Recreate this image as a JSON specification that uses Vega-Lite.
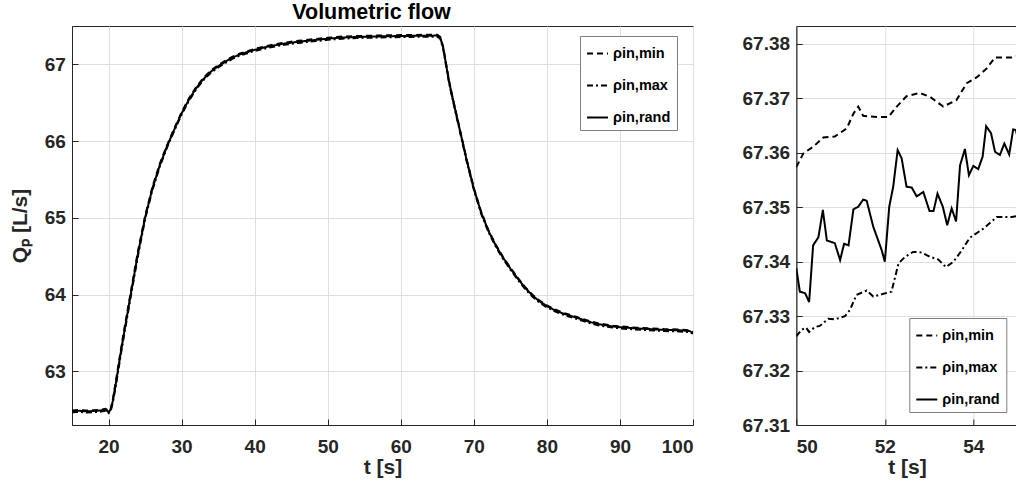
{
"$schema": "https://vega.github.io/schema/vega-lite/v6.json",
"background": "white",
"padding": {"left": 8, "top": 1, "right": 0, "bottom": 0},
"config": {
  "font": "Liberation Sans",
  "view": {"stroke": "#262626", "strokeWidth": 1},
  "axis": {"labelFont": "Liberation Sans", "labelFontSize": 19, "labelFontWeight": "bold", "labelColor": "#262626", "titleFont": "Liberation Sans", "titleFontSize": 21, "titleFontWeight": "bold", "titleColor": "#262626", "gridColor": "#dfdfdf", "gridWidth": 1, "domainColor": "#262626", "tickColor": "#262626", "tickSize": -6, "labelPadding": 13},
  "legend": {"labelFont": "Liberation Sans", "labelFontSize": 14.5, "labelFontWeight": "bold", "labelColor": "black", "symbolType": "stroke", "symbolStrokeColor": "black", "symbolStrokeWidth": 2, "symbolSize": 441, "strokeColor": "#7f7f7f", "fillColor": "white", "padding": 6, "rowPadding": 14, "labelOffset": 4, "cornerRadius": 0, "title": null},
  "title": {"font": "Liberation Sans", "fontSize": 21.5, "fontWeight": "bold", "color": "black"}
},
"datasets": {
"main": [
{"t":15,"s":"ρin,rand","q":62.48},{"t":16,"s":"ρin,rand","q":62.485},{"t":17,"s":"ρin,rand","q":62.478},{"t":18,"s":"ρin,rand","q":62.482},{"t":19,"s":"ρin,rand","q":62.49},{"t":19.6,"s":"ρin,rand","q":62.5},{"t":20,"s":"ρin,rand","q":62.468},{"t":20.3,"s":"ρin,rand","q":62.5},{"t":20.6,"s":"ρin,rand","q":62.62},{"t":21,"s":"ρin,rand","q":62.84},{"t":21.5,"s":"ρin,rand","q":63.14},{"t":22,"s":"ρin,rand","q":63.43},{"t":23,"s":"ρin,rand","q":63.98},{"t":24,"s":"ρin,rand","q":64.52},{"t":25,"s":"ρin,rand","q":65.0},{"t":26,"s":"ρin,rand","q":65.38},{"t":27,"s":"ρin,rand","q":65.68},{"t":28,"s":"ρin,rand","q":65.93},{"t":29,"s":"ρin,rand","q":66.15},{"t":30,"s":"ρin,rand","q":66.36},{"t":31,"s":"ρin,rand","q":66.54},{"t":32,"s":"ρin,rand","q":66.69},{"t":33,"s":"ρin,rand","q":66.81},{"t":34,"s":"ρin,rand","q":66.905},{"t":35,"s":"ρin,rand","q":66.975},{"t":36,"s":"ρin,rand","q":67.035},{"t":37,"s":"ρin,rand","q":67.09},{"t":38,"s":"ρin,rand","q":67.13},{"t":39,"s":"ρin,rand","q":67.16},{"t":40,"s":"ρin,rand","q":67.19},{"t":42,"s":"ρin,rand","q":67.235},{"t":44,"s":"ρin,rand","q":67.27},{"t":46,"s":"ρin,rand","q":67.295},{"t":48,"s":"ρin,rand","q":67.315},{"t":50,"s":"ρin,rand","q":67.335},{"t":52,"s":"ρin,rand","q":67.35},{"t":54,"s":"ρin,rand","q":67.357},{"t":56,"s":"ρin,rand","q":67.362},{"t":58,"s":"ρin,rand","q":67.366},{"t":60,"s":"ρin,rand","q":67.37},{"t":62,"s":"ρin,rand","q":67.372},{"t":64,"s":"ρin,rand","q":67.374},{"t":65,"s":"ρin,rand","q":67.375},{"t":65.4,"s":"ρin,rand","q":67.35},{"t":65.8,"s":"ρin,rand","q":67.22},{"t":66.2,"s":"ρin,rand","q":67.0},{"t":66.6,"s":"ρin,rand","q":66.78},{"t":67,"s":"ρin,rand","q":66.6},{"t":68,"s":"ρin,rand","q":66.18},{"t":69,"s":"ρin,rand","q":65.76},{"t":70,"s":"ρin,rand","q":65.38},{"t":71,"s":"ρin,rand","q":65.07},{"t":72,"s":"ρin,rand","q":64.83},{"t":73,"s":"ρin,rand","q":64.64},{"t":74,"s":"ρin,rand","q":64.48},{"t":75,"s":"ρin,rand","q":64.34},{"t":76,"s":"ρin,rand","q":64.21},{"t":77,"s":"ρin,rand","q":64.09},{"t":78,"s":"ρin,rand","q":63.99},{"t":79,"s":"ρin,rand","q":63.91},{"t":80,"s":"ρin,rand","q":63.85},{"t":81,"s":"ρin,rand","q":63.8},{"t":82,"s":"ρin,rand","q":63.76},{"t":83,"s":"ρin,rand","q":63.73},{"t":84,"s":"ρin,rand","q":63.7},{"t":85,"s":"ρin,rand","q":63.67},{"t":86,"s":"ρin,rand","q":63.64},{"t":87,"s":"ρin,rand","q":63.615},{"t":88,"s":"ρin,rand","q":63.6},{"t":89,"s":"ρin,rand","q":63.585},{"t":90,"s":"ρin,rand","q":63.575},{"t":92,"s":"ρin,rand","q":63.56},{"t":94,"s":"ρin,rand","q":63.55},{"t":96,"s":"ρin,rand","q":63.54},{"t":98,"s":"ρin,rand","q":63.535},{"t":99.5,"s":"ρin,rand","q":63.525},{"t":100,"s":"ρin,rand","q":63.5},
{"t":15,"s":"ρin,min","q":62.49},{"t":16,"s":"ρin,min","q":62.495},{"t":17,"s":"ρin,min","q":62.488},{"t":18,"s":"ρin,min","q":62.492},{"t":19,"s":"ρin,min","q":62.5},{"t":19.6,"s":"ρin,min","q":62.51},{"t":20,"s":"ρin,min","q":62.478},{"t":20.3,"s":"ρin,min","q":62.51},{"t":20.6,"s":"ρin,min","q":62.64},{"t":21,"s":"ρin,min","q":62.87},{"t":21.5,"s":"ρin,min","q":63.17},{"t":22,"s":"ρin,min","q":63.46},{"t":23,"s":"ρin,min","q":64.01},{"t":24,"s":"ρin,min","q":64.55},{"t":25,"s":"ρin,min","q":65.02},{"t":26,"s":"ρin,min","q":65.4},{"t":27,"s":"ρin,min","q":65.7},{"t":28,"s":"ρin,min","q":65.945},{"t":29,"s":"ρin,min","q":66.165},{"t":30,"s":"ρin,min","q":66.375},{"t":31,"s":"ρin,min","q":66.555},{"t":32,"s":"ρin,min","q":66.705},{"t":33,"s":"ρin,min","q":66.825},{"t":34,"s":"ρin,min","q":66.92},{"t":35,"s":"ρin,min","q":66.99},{"t":36,"s":"ρin,min","q":67.048},{"t":37,"s":"ρin,min","q":67.102},{"t":38,"s":"ρin,min","q":67.142},{"t":39,"s":"ρin,min","q":67.172},{"t":40,"s":"ρin,min","q":67.202},{"t":42,"s":"ρin,min","q":67.247},{"t":44,"s":"ρin,min","q":67.282},{"t":46,"s":"ρin,min","q":67.307},{"t":48,"s":"ρin,min","q":67.327},{"t":50,"s":"ρin,min","q":67.347},{"t":52,"s":"ρin,min","q":67.362},{"t":54,"s":"ρin,min","q":67.369},{"t":56,"s":"ρin,min","q":67.374},{"t":58,"s":"ρin,min","q":67.378},{"t":60,"s":"ρin,min","q":67.382},{"t":62,"s":"ρin,min","q":67.384},{"t":64,"s":"ρin,min","q":67.386},{"t":65,"s":"ρin,min","q":67.387},{"t":65.4,"s":"ρin,min","q":67.36},{"t":65.8,"s":"ρin,min","q":67.23},{"t":66.2,"s":"ρin,min","q":67.01},{"t":66.6,"s":"ρin,min","q":66.79},{"t":67,"s":"ρin,min","q":66.61},{"t":68,"s":"ρin,min","q":66.19},{"t":69,"s":"ρin,min","q":65.77},{"t":70,"s":"ρin,min","q":65.39},{"t":71,"s":"ρin,min","q":65.08},{"t":72,"s":"ρin,min","q":64.84},{"t":73,"s":"ρin,min","q":64.65},{"t":74,"s":"ρin,min","q":64.49},{"t":75,"s":"ρin,min","q":64.35},{"t":76,"s":"ρin,min","q":64.22},{"t":77,"s":"ρin,min","q":64.1},{"t":78,"s":"ρin,min","q":64.0},{"t":79,"s":"ρin,min","q":63.92},{"t":80,"s":"ρin,min","q":63.86},{"t":81,"s":"ρin,min","q":63.81},{"t":82,"s":"ρin,min","q":63.77},{"t":83,"s":"ρin,min","q":63.74},{"t":84,"s":"ρin,min","q":63.71},{"t":85,"s":"ρin,min","q":63.68},{"t":86,"s":"ρin,min","q":63.65},{"t":87,"s":"ρin,min","q":63.625},{"t":88,"s":"ρin,min","q":63.61},{"t":89,"s":"ρin,min","q":63.595},{"t":90,"s":"ρin,min","q":63.585},{"t":92,"s":"ρin,min","q":63.57},{"t":94,"s":"ρin,min","q":63.56},{"t":96,"s":"ρin,min","q":63.55},{"t":98,"s":"ρin,min","q":63.545},{"t":99.5,"s":"ρin,min","q":63.535},{"t":100,"s":"ρin,min","q":63.51},
{"t":15,"s":"ρin,max","q":62.465},{"t":16,"s":"ρin,max","q":62.47},{"t":17,"s":"ρin,max","q":62.463},{"t":18,"s":"ρin,max","q":62.467},{"t":19,"s":"ρin,max","q":62.475},{"t":19.6,"s":"ρin,max","q":62.485},{"t":20,"s":"ρin,max","q":62.455},{"t":20.3,"s":"ρin,max","q":62.485},{"t":20.6,"s":"ρin,max","q":62.6},{"t":21,"s":"ρin,max","q":62.81},{"t":21.5,"s":"ρin,max","q":63.11},{"t":22,"s":"ρin,max","q":63.4},{"t":23,"s":"ρin,max","q":63.95},{"t":24,"s":"ρin,max","q":64.49},{"t":25,"s":"ρin,max","q":64.98},{"t":26,"s":"ρin,max","q":65.36},{"t":27,"s":"ρin,max","q":65.665},{"t":28,"s":"ρin,max","q":65.915},{"t":29,"s":"ρin,max","q":66.135},{"t":30,"s":"ρin,max","q":66.345},{"t":31,"s":"ρin,max","q":66.525},{"t":32,"s":"ρin,max","q":66.675},{"t":33,"s":"ρin,max","q":66.795},{"t":34,"s":"ρin,max","q":66.89},{"t":35,"s":"ρin,max","q":66.96},{"t":36,"s":"ρin,max","q":67.02},{"t":37,"s":"ρin,max","q":67.075},{"t":38,"s":"ρin,max","q":67.115},{"t":39,"s":"ρin,max","q":67.145},{"t":40,"s":"ρin,max","q":67.175},{"t":42,"s":"ρin,max","q":67.22},{"t":44,"s":"ρin,max","q":67.255},{"t":46,"s":"ρin,max","q":67.28},{"t":48,"s":"ρin,max","q":67.3},{"t":50,"s":"ρin,max","q":67.32},{"t":52,"s":"ρin,max","q":67.335},{"t":54,"s":"ρin,max","q":67.343},{"t":56,"s":"ρin,max","q":67.348},{"t":58,"s":"ρin,max","q":67.352},{"t":60,"s":"ρin,max","q":67.356},{"t":62,"s":"ρin,max","q":67.358},{"t":64,"s":"ρin,max","q":67.36},{"t":65,"s":"ρin,max","q":67.361},{"t":65.4,"s":"ρin,max","q":67.335},{"t":65.8,"s":"ρin,max","q":67.205},{"t":66.2,"s":"ρin,max","q":66.985},{"t":66.6,"s":"ρin,max","q":66.765},{"t":67,"s":"ρin,max","q":66.585},{"t":68,"s":"ρin,max","q":66.165},{"t":69,"s":"ρin,max","q":65.745},{"t":70,"s":"ρin,max","q":65.365},{"t":71,"s":"ρin,max","q":65.055},{"t":72,"s":"ρin,max","q":64.815},{"t":73,"s":"ρin,max","q":64.625},{"t":74,"s":"ρin,max","q":64.465},{"t":75,"s":"ρin,max","q":64.325},{"t":76,"s":"ρin,max","q":64.195},{"t":77,"s":"ρin,max","q":64.075},{"t":78,"s":"ρin,max","q":63.975},{"t":79,"s":"ρin,max","q":63.895},{"t":80,"s":"ρin,max","q":63.835},{"t":81,"s":"ρin,max","q":63.785},{"t":82,"s":"ρin,max","q":63.745},{"t":83,"s":"ρin,max","q":63.715},{"t":84,"s":"ρin,max","q":63.685},{"t":85,"s":"ρin,max","q":63.655},{"t":86,"s":"ρin,max","q":63.625},{"t":87,"s":"ρin,max","q":63.6},{"t":88,"s":"ρin,max","q":63.585},{"t":89,"s":"ρin,max","q":63.57},{"t":90,"s":"ρin,max","q":63.56},{"t":92,"s":"ρin,max","q":63.545},{"t":94,"s":"ρin,max","q":63.535},{"t":96,"s":"ρin,max","q":63.525},{"t":98,"s":"ρin,max","q":63.52},{"t":99.5,"s":"ρin,max","q":63.51},{"t":100,"s":"ρin,max","q":63.49}
],
"zoom": [
{"t":50,"s":"ρin,min","q":67.3574},{"t":50.16,"s":"ρin,min","q":67.3599},{"t":50.38,"s":"ρin,min","q":67.3611},{"t":50.61,"s":"ρin,min","q":67.3628},{"t":50.87,"s":"ρin,min","q":67.363},{"t":51.14,"s":"ρin,min","q":67.3645},{"t":51.29,"s":"ρin,min","q":67.3672},{"t":51.4,"s":"ρin,min","q":67.3685},{"t":51.51,"s":"ρin,min","q":67.3668},{"t":51.82,"s":"ρin,min","q":67.3666},{"t":52.08,"s":"ρin,min","q":67.3666},{"t":52.27,"s":"ρin,min","q":67.3685},{"t":52.49,"s":"ρin,min","q":67.3704},{"t":52.79,"s":"ρin,min","q":67.371},{"t":53.02,"s":"ρin,min","q":67.3703},{"t":53.32,"s":"ρin,min","q":67.3685},{"t":53.62,"s":"ρin,min","q":67.3697},{"t":53.85,"s":"ρin,min","q":67.3728},{"t":54.08,"s":"ρin,min","q":67.3739},{"t":54.3,"s":"ρin,min","q":67.3755},{"t":54.49,"s":"ρin,min","q":67.3775},{"t":54.87,"s":"ρin,min","q":67.3775},{"t":55.1,"s":"ρin,min","q":67.378},
{"t":50,"s":"ρin,rand","q":67.3388},{"t":50.08,"s":"ρin,rand","q":67.3345},{"t":50.2,"s":"ρin,rand","q":67.3342},{"t":50.29,"s":"ρin,rand","q":67.3326},{"t":50.38,"s":"ρin,rand","q":67.343},{"t":50.5,"s":"ρin,rand","q":67.3445},{"t":50.6,"s":"ρin,rand","q":67.3495},{"t":50.69,"s":"ρin,rand","q":67.3439},{"t":50.87,"s":"ρin,rand","q":67.3434},{"t":50.99,"s":"ρin,rand","q":67.3403},{"t":51.08,"s":"ρin,rand","q":67.3433},{"t":51.18,"s":"ρin,rand","q":67.343},{"t":51.29,"s":"ρin,rand","q":67.3496},{"t":51.4,"s":"ρin,rand","q":67.3501},{"t":51.51,"s":"ρin,rand","q":67.3514},{"t":51.59,"s":"ρin,rand","q":67.3512},{"t":51.74,"s":"ρin,rand","q":67.3464},{"t":51.93,"s":"ρin,rand","q":67.3421},{"t":52,"s":"ρin,rand","q":67.34},{"t":52.1,"s":"ρin,rand","q":67.3501},{"t":52.19,"s":"ρin,rand","q":67.3538},{"t":52.29,"s":"ρin,rand","q":67.3605},{"t":52.38,"s":"ρin,rand","q":67.359},{"t":52.49,"s":"ρin,rand","q":67.3538},{"t":52.61,"s":"ρin,rand","q":67.3536},{"t":52.72,"s":"ρin,rand","q":67.352},{"t":52.87,"s":"ρin,rand","q":67.3528},{"t":53.01,"s":"ρin,rand","q":67.3493},{"t":53.1,"s":"ρin,rand","q":67.3493},{"t":53.19,"s":"ρin,rand","q":67.3525},{"t":53.31,"s":"ρin,rand","q":67.3501},{"t":53.41,"s":"ρin,rand","q":67.3467},{"t":53.51,"s":"ρin,rand","q":67.3498},{"t":53.61,"s":"ρin,rand","q":67.3474},{"t":53.7,"s":"ρin,rand","q":67.3577},{"t":53.81,"s":"ρin,rand","q":67.3607},{"t":53.9,"s":"ρin,rand","q":67.3559},{"t":54,"s":"ρin,rand","q":67.3576},{"t":54.11,"s":"ρin,rand","q":67.357},{"t":54.21,"s":"ρin,rand","q":67.3593},{"t":54.29,"s":"ρin,rand","q":67.3649},{"t":54.4,"s":"ρin,rand","q":67.3636},{"t":54.49,"s":"ρin,rand","q":67.3602},{"t":54.6,"s":"ρin,rand","q":67.3596},{"t":54.7,"s":"ρin,rand","q":67.3617},{"t":54.81,"s":"ρin,rand","q":67.3597},{"t":54.9,"s":"ρin,rand","q":67.3643},{"t":54.96,"s":"ρin,rand","q":67.3642},{"t":55.05,"s":"ρin,rand","q":67.361},
{"t":50,"s":"ρin,max","q":67.3263},{"t":50.12,"s":"ρin,max","q":67.3275},{"t":50.22,"s":"ρin,max","q":67.3279},{"t":50.29,"s":"ρin,max","q":67.3271},{"t":50.42,"s":"ρin,max","q":67.328},{"t":50.53,"s":"ρin,max","q":67.3282},{"t":50.72,"s":"ρin,max","q":67.3295},{"t":50.87,"s":"ρin,max","q":67.3294},{"t":51.1,"s":"ρin,max","q":67.33},{"t":51.21,"s":"ρin,max","q":67.3311},{"t":51.36,"s":"ρin,max","q":67.3339},{"t":51.59,"s":"ρin,max","q":67.3347},{"t":51.74,"s":"ρin,max","q":67.3336},{"t":51.97,"s":"ρin,max","q":67.3341},{"t":52.15,"s":"ρin,max","q":67.3345},{"t":52.31,"s":"ρin,max","q":67.3397},{"t":52.46,"s":"ρin,max","q":67.3409},{"t":52.64,"s":"ρin,max","q":67.3418},{"t":52.83,"s":"ρin,max","q":67.3417},{"t":53.02,"s":"ρin,max","q":67.3409},{"t":53.21,"s":"ρin,max","q":67.3404},{"t":53.38,"s":"ρin,max","q":67.339},{"t":53.55,"s":"ρin,max","q":67.34},{"t":53.74,"s":"ρin,max","q":67.3421},{"t":53.92,"s":"ρin,max","q":67.3444},{"t":54.23,"s":"ρin,max","q":67.3461},{"t":54.53,"s":"ρin,max","q":67.3482},{"t":54.87,"s":"ρin,max","q":67.3482},{"t":55.1,"s":"ρin,max","q":67.3486}
]
},
"spacing": 103.3,
"bounds": "flush",
"resolve": {"scale": {"strokeDash": "independent"}, "legend": {"strokeDash": "independent"}},
"hconcat": [
{
  "width": 621, "height": 399,
  "title": {"text": "Volumetric flow", "offset": 3, "dx": -11},
  "data": {"name": "main"},
  "mark": {"type": "line", "strokeWidth": 2, "color": "black", "clip": true},
  "encoding": {
    "x": {"field": "t", "type": "quantitative", "scale": {"domain": [15, 100], "nice": false, "zero": false}, "axis": {"values": [20, 30, 40, 50, 60, 70, 80, 90, 100], "title": "t [s]", "labelPadding": 18.6, "titlePadding": 0}},
    "y": {"field": "q", "type": "quantitative", "scale": {"domain": [62.3, 67.5], "nice": false, "zero": false}, "axis": {"values": [63, 64, 65, 66, 67], "title": "Qₚ [L/s]", "labelPadding": 12.7, "titlePadding": 14}},
    "strokeDash": {"field": "s", "type": "nominal", "scale": {"domain": ["ρin,min", "ρin,max", "ρin,rand"], "range": [[6, 4], [6, 3, 2, 3], [1, 0]]}, "legend": {"orient": "none", "legendX": 508, "legendY": 10}}
  }
},
{
  "width": 221.3, "height": 399,
  "data": {"name": "zoom"},
  "mark": {"type": "line", "strokeWidth": 2, "color": "black", "clip": true},
  "encoding": {
    "x": {"field": "t", "type": "quantitative", "scale": {"domain": [50, 55], "nice": false, "zero": false}, "axis": {"values": [50, 52, 54], "title": "t [s]", "labelPadding": 18.6, "titlePadding": 0}},
    "y": {"field": "q", "type": "quantitative", "scale": {"domain": [67.31, 67.3833], "nice": false, "zero": false}, "axis": {"values": [67.31, 67.32, 67.33, 67.34, 67.35, 67.36, 67.37, 67.38], "format": ".2f", "title": null, "labelPadding": 12.7}},
    "strokeDash": {"field": "s", "type": "nominal", "scale": {"domain": ["ρin,min", "ρin,max", "ρin,rand"], "range": [[6, 4], [6, 3, 2, 3], [1, 0]]}, "legend": {"orient": "none", "legendX": 113, "legendY": 292}}
  }
}
]
}
